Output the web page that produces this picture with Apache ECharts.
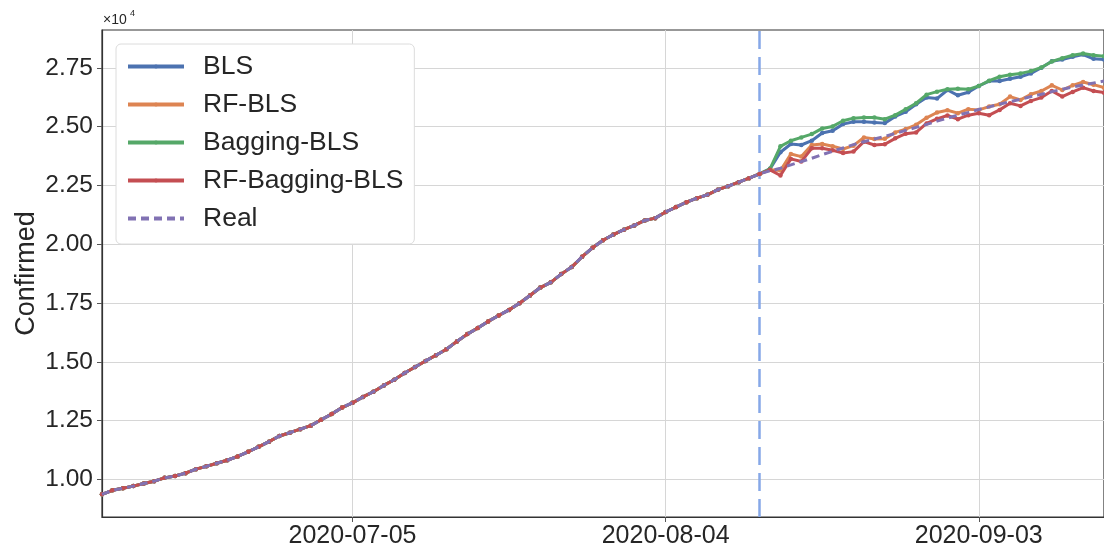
<!DOCTYPE html>
<html>
<head>
<meta charset="utf-8">
<script src="https://cdn.jsdelivr.net/npm/echarts@6/dist/echarts.min.js"></script>
<style>
html,body{margin:0;padding:0;background:#fff;}
#chart{width:1104px;height:549px;}
</style>
</head>
<body>
<div id="chart"></div>
<script>
// ---- data ----
const categories = [
'2020-06-11','2020-06-12','2020-06-13','2020-06-14','2020-06-15','2020-06-16','2020-06-17','2020-06-18','2020-06-19','2020-06-20',
'2020-06-21','2020-06-22','2020-06-23','2020-06-24','2020-06-25','2020-06-26','2020-06-27','2020-06-28','2020-06-29','2020-06-30',
'2020-07-01','2020-07-02','2020-07-03','2020-07-04','2020-07-05','2020-07-06','2020-07-07','2020-07-08','2020-07-09','2020-07-10',
'2020-07-11','2020-07-12','2020-07-13','2020-07-14','2020-07-15','2020-07-16','2020-07-17','2020-07-18','2020-07-19','2020-07-20',
'2020-07-21','2020-07-22','2020-07-23','2020-07-24','2020-07-25','2020-07-26','2020-07-27','2020-07-28','2020-07-29','2020-07-30',
'2020-07-31','2020-08-01','2020-08-02','2020-08-03','2020-08-04','2020-08-05','2020-08-06','2020-08-07','2020-08-08','2020-08-09',
'2020-08-10','2020-08-11','2020-08-12','2020-08-13','2020-08-14','2020-08-15','2020-08-16','2020-08-17','2020-08-18','2020-08-19',
'2020-08-20','2020-08-21','2020-08-22','2020-08-23','2020-08-24','2020-08-25','2020-08-26','2020-08-27','2020-08-28','2020-08-29',
'2020-08-30','2020-08-31','2020-09-01','2020-09-02','2020-09-03','2020-09-04','2020-09-05','2020-09-06','2020-09-07','2020-09-08',
'2020-09-09','2020-09-10','2020-09-11','2020-09-12','2020-09-13','2020-09-14','2020-09-15'
];
const xTickLabels = ['2020-07-05','2020-08-04','2020-09-03'];
const splitDate = '2020-08-13';
const yTicks = [10000,12500,15000,17500,20000,22500,25000,27500];

// shared history (identical for all curves) 2020-06-11 .. 2020-08-13
const history = [
9370,9540,9630,9720,9830,9930,10070,10150,10270,10440,
10560,10690,10820,10980,11180,11390,11610,11850,11990,12140,
12290,12540,12780,13060,13260,13510,13730,14000,14240,14530,
14780,15040,15280,15540,15870,16180,16440,16720,16970,17210,
17490,17820,18160,18380,18730,19030,19470,19850,20170,20410,
20620,20800,21010,21110,21370,21580,21790,21960,22100,22320,
22470,22640,22810,22990
];
// 2020-08-14 .. 2020-09-15
const blsForecast = [23204,23909,24261,24218,24401,24725,24824,25106,25204,25204,25176,25148,25430,25627,25951,26233,26190,26556,26331,26458,26726,26937,26937,27035,27120,27261,27500,27782,27852,27965,28064,27880,27852];
const rfBlsForecast = [23162,23134,23838,23725,24218,24261,24162,24049,24190,24542,24472,24486,24754,24894,25078,25373,25599,25697,25571,25740,25711,25852,25951,26275,26134,26373,26514,26754,26556,26754,26895,26782,26655];
const baggingBlsForecast = [23204,24162,24401,24542,24683,24923,25007,25247,25359,25387,25387,25317,25486,25740,25993,26359,26486,26585,26613,26585,26726,26951,27120,27204,27261,27359,27514,27768,27909,28035,28106,28035,27993];
const rfBaggingBlsForecast = [23162,22923,23627,23514,24078,24078,23993,23880,23937,24359,24218,24247,24500,24697,24754,25134,25331,25472,25317,25486,25571,25486,25711,25993,25880,26092,26233,26514,26275,26472,26655,26514,26444];
const realForecast = [23120,23232,23373,23514,23655,23810,23951,24092,24232,24359,24472,24585,24711,24838,24965,25092,25232,25359,25486,25599,25725,25838,25951,26064,26162,26275,26373,26486,26585,26683,26768,26852,26937];

const seriesNames = ['BLS','RF-BLS','Bagging-BLS','RF-Bagging-BLS','Real'];
const seriesColors = ['#4C72B0','#DD8452','#55A868','#C44E52','#8172B3'];
const forecasts = [blsForecast, rfBlsForecast, baggingBlsForecast, rfBaggingBlsForecast, realForecast];

// ---- chart ----
const FONT = '"Liberation Sans", Arial, sans-serif';
const chart = echarts.init(document.getElementById('chart'), null, {renderer:'canvas'});

const series = seriesNames.map((name, i) => {
  const isReal = name === 'Real';
  const s = {
    name: name,
    type: 'line',
    data: history.concat(forecasts[i]),
    color: seriesColors[i],
    lineStyle: {width: 3, color: seriesColors[i], type: isReal ? [8, 5] : 'solid'},
    itemStyle: {color: seriesColors[i]},
    symbol: isReal ? 'none' : 'circle',
    symbolSize: 4.5,
    showSymbol: !isReal,
    z: 2 + i,
    animation: false
  };
  if (isReal) {
    s.markLine = {
      silent: true,
      symbol: ['none','none'],
      label: {show: false},
      lineStyle: {color: '#86a8e8', width: 2.5, type: [18, 8]},
      data: [{xAxis: splitDate}],
      animation: false
    };
  }
  return s;
});

const legendData = seriesNames.map(n => n === 'Real' ? {name: n, itemStyle: {opacity: 0}} : {name: n});

const option = {
  animation: false,
  backgroundColor: '#fff',
  grid: {left: 102, top: 30, width: 1003, height: 490, show: true, borderColor: '#333', borderWidth: 1.2, backgroundColor: 'transparent'},
  legend: {
    data: legendData,
    orient: 'vertical',
    left: 116, top: 44,
    padding: [9, 11, 12, 10],
    itemWidth: 56, itemHeight: 5, itemGap: 11,
    lineStyle: {width: 4},
    itemStyle: {borderWidth: 0},
    backgroundColor: '#fff', borderColor: '#dcdcdc', borderWidth: 1, borderRadius: 5,
    textStyle: {fontSize: 26.5, lineHeight: 27, color: '#262626', fontFamily: FONT, padding: [0,0,0,14]}
  },
  xAxis: {
    type: 'category',
    data: categories,
    boundaryGap: false,
    axisLine: {show: true, lineStyle: {color: '#333', width: 1.2}},
    axisTick: {show: true, length: 5, lineStyle: {color: '#555'}, interval: (idx, val) => xTickLabels.includes(val)},
    axisLabel: {show: true, fontSize: 25, color: '#262626', fontFamily: FONT, margin: 7, interval: (idx, val) => xTickLabels.includes(val)},
    splitLine: {show: true, lineStyle: {color: '#d6d6d6', width: 1}, interval: (idx, val) => xTickLabels.includes(val)}
  },
  yAxis: {
    type: 'value',
    min: 8407, max: 29106,
    name: 'Confirmed',
    nameLocation: 'middle',
    nameGap: 62,
    nameMoveOverlap: false,
    nameTextStyle: {fontSize: 27, color: '#262626', fontFamily: FONT},
    axisLine: {show: true, lineStyle: {color: '#333', width: 1.2}},
    axisTick: {show: true, length: 5, lineStyle: {color: '#555'}, customValues: yTicks},
    axisLabel: {fontSize: 24.5, color: '#262626', fontFamily: FONT, margin: 9, customValues: yTicks,
      formatter: v => (v / 10000).toFixed(2)},
    splitLine: {show: true, lineStyle: {color: '#d6d6d6', width: 1}}
  },
  graphic: [
    {type: 'text', left: 103, top: 13, style: {text: '×10', fontSize: 14, fill: '#262626', fontFamily: FONT}},
    {type: 'text', left: 130, top: 9, style: {text: '4', fontSize: 9, fill: '#262626', fontFamily: FONT}}
  ],
  series: series
};
chart.setOption(option);
</script>
</body>
</html>
